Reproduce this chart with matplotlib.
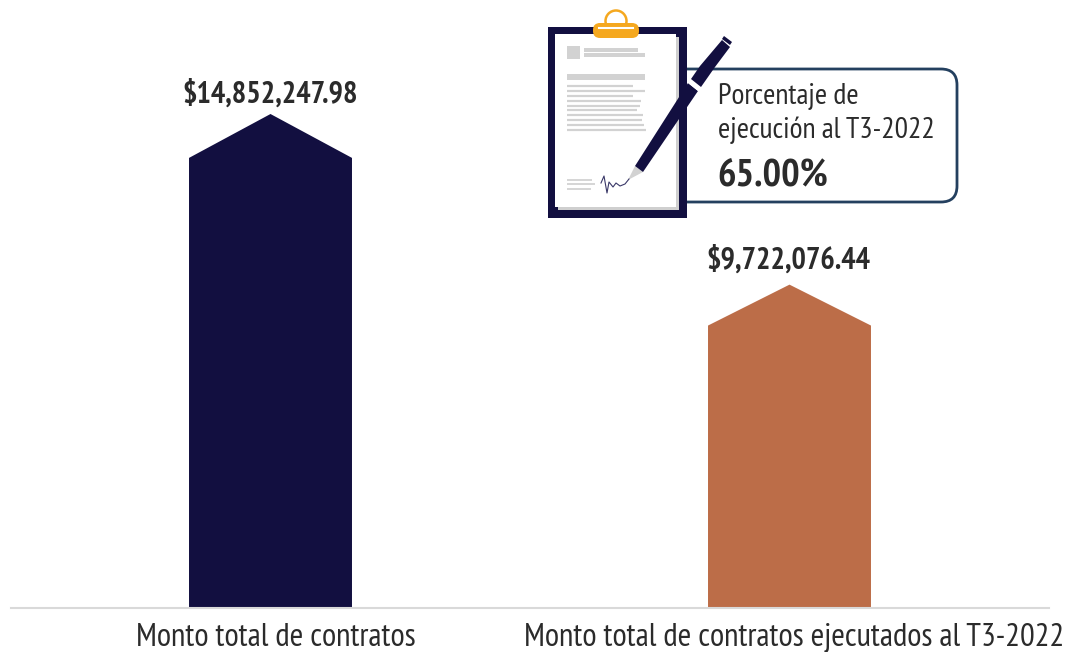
import matplotlib
matplotlib.use("Agg")
import matplotlib.pyplot as plt
from matplotlib.patches import FancyBboxPatch, Polygon, Rectangle, Circle

# narrow face closest to the original, with a fallback if it is missing
plt.rcParams['font.family'] = ['PT Sans Narrow', 'Liberation Sans', 'DejaVu Sans']

# Data
categories = ["Monto total de contratos", "Monto total de contratos ejecutados al T3-2022"]
amounts = [14852247.98, 9722076.44]
amount_labels = ["$14,852,247.98", "$9,722,076.44"]
callout_lines = ["Porcentaje de", "ejecución al T3-2022"]
callout_value = "65.00%"

navy = "#120F40"
copper = "#BC6D48"
text_col = "#2B2B2B"
W, H = 1070, 652

fig = plt.figure(figsize=(W / 100, H / 100), dpi=100)

# bars axes: baseline at pixel row 608
ax = fig.add_axes([11 / W, (H - 608) / H, 1038 / W, 608 / H])
ax.set_xlim(-0.5, 1.5)
ax.set_ylim(0, 18.28e6)
for s in ["top", "left", "right"]:
    ax.spines[s].set_visible(False)
ax.spines["bottom"].set_color("#D9D9D9")
ax.spines["bottom"].set_linewidth(1.5)
ax.set_yticks([])
ax.set_xticks([])

half = 0.157
heads = [1.32e6, 1.23e6]
lab_offsets = [7.9, 11.5]
for i, (val, col, head, lab, cat, off) in enumerate(zip(amounts, [navy, copper], heads, amount_labels, categories, lab_offsets)):
    ax.fill([i - half, i - half, i, i + half, i + half],
            [0, val - head, val, val - head, 0], color=col, lw=0)
    ax.annotate(lab, (i, val), xytext=(-0.5, off), textcoords="offset points", ha="center", va="baseline",
                fontsize=21.8, fontweight="bold", color=text_col)
    ax.annotate(cat, (i, 0), xytext=(3.6, -27), textcoords="offset points", ha="center", va="baseline",
                fontsize=23.6, color=text_col, annotation_clip=False)

# overlay in pixel coordinates for the clipboard illustration
ov = fig.add_axes([0, 0, 1, 1], zorder=5)
ov.set_xlim(0, W)
ov.set_ylim(H, 0)
ov.axis("off")

# callout box
ov.add_patch(FancyBboxPatch((650, 69), 307, 133, boxstyle="round,pad=0,rounding_size=16",
                            fc="white", ec="#24405F", lw=2))
ov.text(718, 104, callout_lines[0], fontsize=21.4, color=text_col, va="baseline")
ov.text(718, 138, callout_lines[1], fontsize=21.4, color=text_col, va="baseline")
ov.text(717, 185, callout_value, fontsize=28, fontweight="bold", color=text_col, va="baseline")

# clipboard
ov.add_patch(Rectangle((548, 27), 139, 191, fc=navy, ec="none"))
ov.add_patch(Rectangle((558, 37), 121, 173, fc="#CFCFCF", ec="none"))
ov.add_patch(Rectangle((555, 34), 121, 173, fc="white", ec="none"))
ov.add_patch(Circle((616, 21), 10.5, fc="none", ec="#F5A81F", lw=1.8))
ov.add_patch(FancyBboxPatch((593, 23), 46, 15, boxstyle="round,pad=0,rounding_size=7",
                            fc="#F5A81F", ec="none", zorder=3))
ov.plot([599, 633], [28, 28], color="white", lw=1.5, zorder=4)

# document lines
gray = "#D2D2D2"
ov.add_patch(Rectangle((567, 46), 13, 13, fc=gray, ec="none"))
ov.add_patch(Rectangle((584, 48), 54, 4, fc=gray, ec="none"))
ov.add_patch(Rectangle((584, 53), 61, 4, fc=gray, ec="none"))
ov.add_patch(Rectangle((567, 74), 78, 6, fc=gray, ec="none"))
for y, x1 in zip([86, 91, 96, 101, 106, 110, 115, 120, 125, 130],
                 [633, 645, 633, 641, 640, 637, 643, 642, 644, 646]):
    ov.plot([567, x1], [y, y], color=gray, lw=1.6, solid_capstyle="butt")
for y, x1 in zip([180, 184, 189], [592, 595, 591]):
    ov.plot([567, x1], [y, y], color=gray, lw=1.3, solid_capstyle="butt")

# signature
ov.plot([601, 604, 607, 609, 613, 616, 620, 625, 629],
        [183, 176, 193, 182, 187, 183, 186, 184, 179], color="#3A3868", lw=0.8)

# pen
ov.add_patch(Polygon([(635, 166), (643, 172), (628, 180)], fc="#D2D2D2", ec="none"))
ov.add_patch(Polygon([(635, 166), (643, 172), (698, 91), (688, 83)], fc=navy, ec="none"))
ov.add_patch(Polygon([(688, 83), (698, 91), (701, 88), (691, 80)], fc="white", ec="none"))
ov.add_patch(Polygon([(691, 79), (701, 87), (715, 67), (730, 47), (722, 40), (700, 66)], fc=navy, ec="none"))
ov.add_patch(Polygon([(724, 36), (732, 42), (730, 45), (722, 39)], fc=navy, ec="none"))

fig.savefig("out.png", dpi=100)
